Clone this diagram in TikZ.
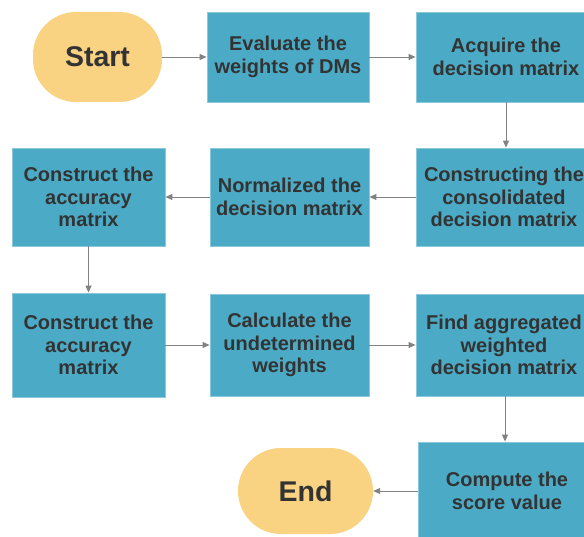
\documentclass[tikz,border=0pt]{standalone}
\usepackage{fontspec}
\setmainfont{Liberation Sans}
\usetikzlibrary{arrows.meta}
\definecolor{boxfill}{RGB}{75,171,198}
\definecolor{boxedge}{RGB}{140,200,220}
\definecolor{ovalfill}{RGB}{250,211,130}
\definecolor{txt}{RGB}{51,51,51}
\definecolor{arr}{RGB}{130,130,130}
\tikzset{
  stepbox/.style={rectangle, draw=boxedge, line width=0.8pt, fill=boxfill, inner sep=0pt, align=center, text=txt,
    font=\bfseries\fontsize{20}{22.5}\selectfont},
  terminal/.style={rectangle, rounded corners=43pt, fill=ovalfill, draw=none, inner sep=0pt, text=txt,
    font=\bfseries\fontsize{28.5}{32}\selectfont},
  flow/.style={draw=arr, line width=0.9pt, -{Triangle[length=7pt,width=6pt]}}
}
\begin{document}
\begin{tikzpicture}[x=1pt,y=-1pt]
\clip (0,0) rectangle (584,537);
\fill[white] (0,0) rectangle (584,537);
% row 1
\node[terminal, minimum width=129pt, minimum height=90pt] (start) at (97.5,57) {Start};
\node[stepbox, minimum width=162pt, minimum height=90pt] (eval) at (288,57) {Evaluate the\\weights of DMs};
\node[stepbox, minimum width=180pt, minimum height=90pt] (acq) at (506,57) {Acquire the\\decision matrix};
% row 2
\node[stepbox, minimum width=176pt, minimum height=98pt] (cons) at (504,197) {Constructing the\\consolidated\\decision matrix};
\node[stepbox, minimum width=159pt, minimum height=98pt] (norm) at (289.5,197) {Normalized the\\decision matrix};
\node[stepbox, minimum width=153pt, minimum height=98pt] (acc1) at (88.5,197) {Construct the\\accuracy\\matrix};
% row 3
\node[stepbox, minimum width=153pt, minimum height=104pt] (acc2) at (88.5,345) {Construct the\\accuracy\\matrix};
\node[stepbox, minimum width=159pt, minimum height=102pt] (calc) at (289.5,345) {Calculate the\\undetermined\\weights};
\node[stepbox, minimum width=176pt, minimum height=102pt] (find) at (504,345) {Find aggregated\\weighted\\decision matrix};
% row 4
\node[stepbox, minimum width=178pt, minimum height=98pt] (score) at (507,491) {Compute the\\score value};
\node[terminal, minimum width=135pt, minimum height=86pt] (end) at (305.5,491) {End};
% connectors
\draw[flow] (start) -- (eval);
\draw[flow] (eval) -- (acq);
\draw[flow] (acq.south -| 506,0) -- (cons.north -| 506,0);
\draw[flow] (cons) -- (norm);
\draw[flow] (norm) -- (acc1);
\draw[flow] (acc1) -- (acc2);
\draw[flow] (acc2) -- (calc);
\draw[flow] (calc) -- (find);
\draw[flow] (find.south -| 505,0) -- (score.north -| 505,0);
\draw[flow] (score) -- (end);
\end{tikzpicture}
\end{document}
